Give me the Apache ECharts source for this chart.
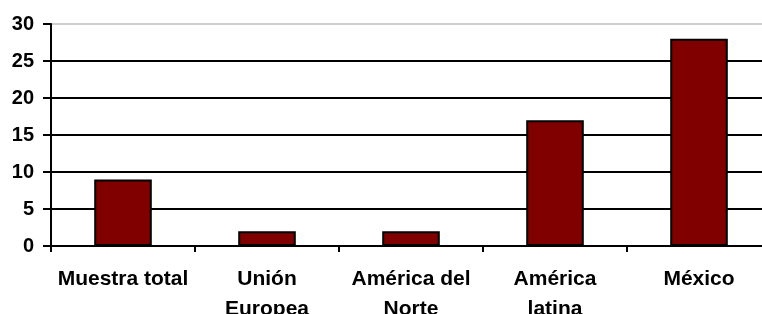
<!DOCTYPE html>
<html>
<head>
<meta charset="utf-8">
<script src="https://cdn.jsdelivr.net/npm/echarts@6/dist/echarts.min.js"></script>
<style>html,body{margin:0;padding:0;background:#fff;}#c{width:762px;height:314px;}</style>
</head>
<body>
<div id="c"></div>
<script>
const categories = ['Muestra total', 'Unión\nEuropea', 'América del\nNorte', 'América\nlatina', 'México'];
const values = [9, 2, 2, 17, 28];
const yTicks = [0, 5, 10, 15, 20, 25, 30];

const chart = echarts.init(document.getElementById('c'), null, {renderer: 'canvas'});
chart.setOption({
  animation: false,
  backgroundColor: '#fff',
  grid: {left: 51, width: 720, top: 24, bottom: 68, containLabel: false, outerBoundsMode: 'none'},
  xAxis: {
    type: 'category',
    data: categories,
    boundaryGap: true,
    axisLine: {show: true, lineStyle: {color: '#000', width: 2}},
    axisTick: {show: true, alignWithLabel: false, length: 6, lineStyle: {color: '#000', width: 2}},
    axisLabel: {
      color: '#000', fontFamily: 'Liberation Sans, Arial', fontWeight: 'bold', fontSize: 21,
      lineHeight: 30, margin: 18, interval: 0
    },
    splitLine: {show: false}
  },
  yAxis: {
    type: 'value',
    min: yTicks[0], max: yTicks[yTicks.length - 1], interval: 5,
    axisLine: {show: true, lineStyle: {color: '#000', width: 2}},
    axisTick: {show: true, length: 8, lineStyle: {color: '#000', width: 2}},
    axisLabel: {color: '#000', fontFamily: 'Liberation Sans, Arial', fontWeight: 'bold', fontSize: 20, margin: 17},
    splitLine: {show: true, lineStyle: {color: ['#000', '#000', '#000', '#000', '#000', '#000', '#cfcfcf'], width: 2}}
  },
  series: [{
    type: 'bar',
    data: values,
    barWidth: '40%',
    itemStyle: {color: '#800000', borderColor: '#000', borderWidth: 2}
  }]
});
</script>
</body>
</html>
